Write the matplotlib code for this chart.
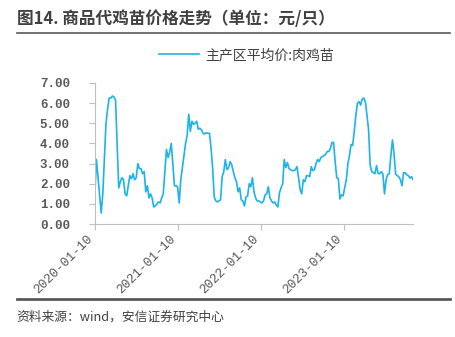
import matplotlib.pyplot as plt
import matplotlib.dates as mdates
import pandas as pd

plt.rcParams['font.family'] = ['Noto Sans CJK SC', 'DejaVu Sans']

# weekly price of broiler chicks, main producing areas (yuan per chick)
start_date = '2020-01-10'
chick_price = [
    1.45, 3.2, 2.3, 1.4, 0.55, 1.5, 3.2, 5.0, 5.7, 6.25,
    6.25, 6.35, 6.3, 6.15, 4.0, 1.8, 2.1, 2.3, 2.2, 1.5,
    1.4, 1.9, 2.4, 2.25, 2.5, 2.2, 2.3, 3.0, 2.75, 2.75,
    2.5, 2.6, 1.6, 1.9, 1.3, 1.5, 1.3, 0.85, 0.9, 1.0,
    1.1, 1.05, 1.3, 1.5, 2.6, 3.7, 3.3, 3.55, 4.0, 3.0,
    1.9, 1.9, 1.85, 1.05, 2.2, 2.8, 3.4, 4.0, 4.4, 5.45,
    4.6, 5.1, 4.95, 5.0, 5.1, 4.7, 4.75, 4.67, 4.5, 4.47,
    4.53, 4.5, 4.5, 3.8, 2.8, 1.35, 1.15, 1.1, 1.15, 1.2,
    2.35, 2.6, 3.2, 2.7, 2.8, 3.1, 2.95, 2.6, 2.3, 2.1,
    1.6, 1.8, 1.2, 1.15, 0.9, 1.35, 1.4, 2.0, 1.85, 2.3,
    1.6, 1.3, 1.15, 1.15, 1.1, 1.05, 1.15, 1.45, 1.5, 1.85,
    1.3, 1.15, 1.05, 1.1, 0.95, 0.85, 1.55, 1.8, 2.0, 3.2,
    2.8, 3.05, 2.75, 2.7, 2.65, 2.65, 2.7, 2.85, 2.3, 1.7,
    1.5, 2.2, 2.1, 2.4, 2.4, 2.35, 2.85, 2.65, 2.7, 3.0,
    3.2, 3.1, 3.3, 3.35, 3.4, 3.45, 3.6, 3.6, 3.75, 4.05,
    4.05, 3.1, 2.3, 2.25, 1.25, 1.45, 1.4, 1.8, 2.2, 3.0,
    3.4, 3.95, 3.9, 4.6, 5.4, 6.0, 6.07, 5.9, 6.2, 6.25,
    6.05, 5.4, 4.67, 2.9, 2.6, 2.55, 2.5, 2.9, 2.5, 2.5,
    2.6, 2.48, 1.5, 2.2, 2.45, 2.5, 3.4, 4.17, 3.5, 2.48,
    2.4, 2.35, 2.2, 1.9, 2.55, 2.55, 2.45, 2.4, 2.28, 2.35,
    2.2,
]
tick_dates = ['2020-01-10', '2021-01-10', '2022-01-10', '2023-01-10']
y_ticks = [0, 1, 2, 3, 4, 5, 6, 7]

dates = pd.date_range(start_date, periods=len(chick_price), freq='7D')

fig = plt.figure(figsize=(4.56, 3.37), dpi=100)
ax = fig.add_axes([0.208, 0.335, 0.698, 0.419])

ax.plot(dates, chick_price, color='#1cb4e8', lw=1.2, label='主产区平均价:肉鸡苗')

ax.set_ylim(0, 7)
ax.set_xlim(dates[0], dates[-1])
ax.set_yticks(y_ticks)
ax.set_yticklabels([f'{v:.2f}' for v in y_ticks], family='Liberation Mono',
                   fontsize=9, color='#595959', weight='bold')
ax.set_xticks(pd.to_datetime(tick_dates))
ax.xaxis.set_major_formatter(mdates.DateFormatter('%Y-%m-%d'))
for lbl in ax.get_xticklabels():
    lbl.set_rotation(45)
    lbl.set_ha('right')
    lbl.set_family('Liberation Mono')
    lbl.set_fontsize(9.3)
    lbl.set_color('#595959')

for side in ('top', 'right'):
    ax.spines[side].set_visible(False)
for side in ('left', 'bottom'):
    ax.spines[side].set_color('#bfbfbf')
    ax.spines[side].set_linewidth(0.8)
ax.tick_params(axis='both', color='#bfbfbf', length=4, width=0.8)
ax.tick_params(axis='y', pad=14)
ax.tick_params(axis='x', pad=2)

leg = fig.legend(loc='center', bbox_to_anchor=(0.54, 0.837), frameon=False,
                 prop={'size': 10}, handlelength=2.9, handletextpad=0.4)
for t in leg.get_texts():
    t.set_color('#404040')

# heading, rules and source note
fig.text(0.037, 0.945, '图14. 商品代鸡苗价格走势（单位：元/只）', fontsize=12,
         weight='bold', color='#404040', va='center', ha='left')
fig.add_artist(plt.Line2D([0.037, 0.987], [0.903, 0.903], color='#595959', lw=1.2))
fig.add_artist(plt.Line2D([0.037, 0.987], [0.113, 0.113], color='#595959', lw=2))
fig.text(0.037, 0.06, '资料来源：wind，安信证券研究中心', fontsize=9.2,
         color='#404040', va='center', ha='left', style='italic')

fig.savefig('out.png', dpi=100)
